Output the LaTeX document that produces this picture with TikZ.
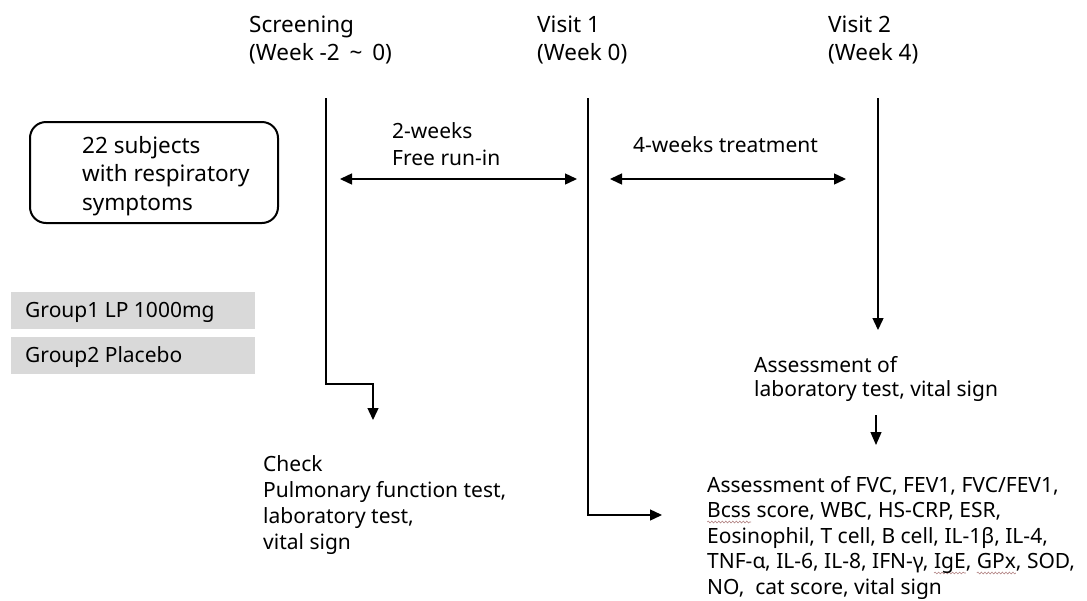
\documentclass[tikz,border=0pt]{standalone}
\usepackage{fontspec}
\setmainfont{Noto Sans}
\usetikzlibrary{arrows.meta,decorations.pathmorphing}
\definecolor{grpgray}{HTML}{D9D9D9}
\definecolor{spellc}{HTML}{B08080}
\newcommand\spellwave[1]{\leavevmode\setbox0\hbox{#1}\rlap{\tikz[baseline=0pt,x=1pt,y=1pt]{\useasboundingbox (0,0); \draw[spellc,line width=0.6pt,decorate,decoration={snake,amplitude=0.9pt,segment length=3.5pt}] (0,-4.5) -- (\the\wd0,-4.5);}}\box0\relax}
\tikzset{
  arr/.style={line width=1.4pt,-{Triangle[length=12pt,width=11pt]}},
  darr/.style={line width=1.4pt,{Triangle[length=12pt,width=11pt]}-{Triangle[length=12pt,width=11pt]}},
  toplabel/.style={anchor=base west,inner sep=0pt,align=left,font=\fontsize{22.5}{28}\selectfont},
  txt/.style={anchor=base west,inner sep=0pt,align=left,font=\fontsize{21}{25.7}\selectfont},
  grpbox/.style={fill=grpgray,draw=none,minimum width=244pt,minimum height=37pt,anchor=north west,inner sep=0pt},
}
\begin{document}
\begin{tikzpicture}[x=1pt,y=-1pt]
\useasboundingbox (0,0) rectangle (1087,600);
% top labels (anchor = baseline of last line)
\node[toplabel] (scr) at (249,60) {Screening\\(Week -2\hspace{4pt} \textasciitilde{}\hspace{4pt} 0)};
\node[toplabel] (v1) at (537,60) {Visit 1\\(Week 0)};
\node[toplabel] (v2) at (828,60) {Visit 2\\(Week 4)};
% subjects box
\draw[line width=2pt,rounded corners=16pt] (30,122) rectangle (278,223);
\node[txt,font=\fontsize{22.5}{28.5}\selectfont] (subj) at (82,210) {22 subjects\\with respiratory\\symptoms};
% group boxes
\node[grpbox] (g1) at (11,292) {};
\node[grpbox] (g2) at (11,337) {};
\node[txt,anchor=base west] (g1t) at (25,317.5) {Group1 LP 1000mg};
\node[txt,anchor=base west] (g2t) at (25,362.5) {Group2 Placebo};
% period labels
\node[txt,font=\fontsize{21}{27}\selectfont] (run) at (392,165) {2-weeks\\Free run-in};
\node[txt] (treat) at (633,152) {4-weeks treatment};
% coordinates
\coordinate (stop) at (326,98);
\coordinate (sbend) at (326,384);
\coordinate (sbend2) at (373,384);
\coordinate (send) at (373,420);
\coordinate (v1top) at (588,98);
\coordinate (v1bend) at (588,515);
\coordinate (v1end) at (662,515);
\coordinate (v2top) at (878,98);
\coordinate (v2end) at (878,330);
\coordinate (runL) at (340,179);
\coordinate (runR) at (577,179);
\coordinate (trL) at (610,179);
\coordinate (trR) at (846,179);
\coordinate (smtop) at (876,415);
\coordinate (smend) at (876,445);
% lines
\draw[arr] (stop) -- (sbend) -- (sbend2) -- (send);
\draw[arr] (v1top) -- (v1bend) -- (v1end);
\draw[arr] (v2top) -- (v2end);
\draw[darr] (runL) -- (runR);
\draw[darr] (trL) -- (trR);
\draw[line width=1.2pt,-{Triangle[length=13pt,width=11pt]}] (smtop) -- (smend);
% bottom texts
\node[txt,font=\fontsize{21}{24}\selectfont] (as1) at (754,396) {Assessment of\\laboratory test, vital sign};
\node[txt] (chk) at (263,549) {Check\\Pulmonary function test,\\laboratory test,\\vital sign};
\node[txt,font=\fontsize{21}{25.5}\selectfont] (as2) at (707,594) {Assessment of FVC, FEV1, FVC/FEV1,\\\spellwave{Bcss} score, WBC, HS-CRP, ESR,\\Eosinophil, T cell, B cell, IL-1β, IL-4,\\TNF-α, IL-6, IL-8, IFN-γ, \spellwave{IgE}, \spellwave{GPx}, SOD,\\NO,\ \ cat score, vital sign};
\end{tikzpicture}
\end{document}
